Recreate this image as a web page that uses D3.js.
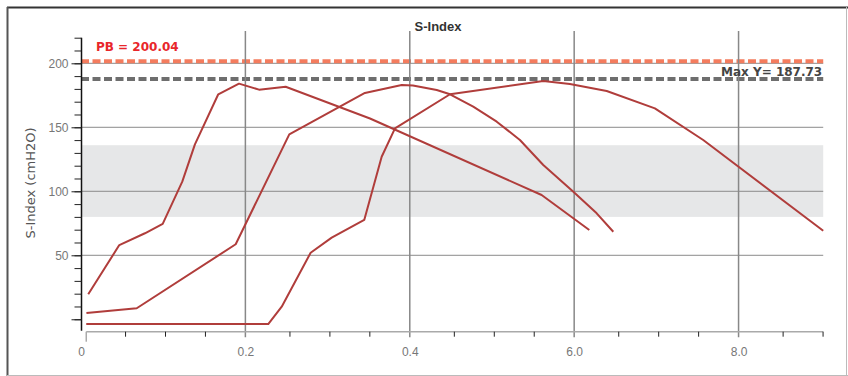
<!DOCTYPE html>
<html><head><meta charset="utf-8">
<script src="https://cdn.jsdelivr.net/npm/d3@7/dist/d3.min.js"></script>
<style>body{margin:0;background:#fff}</style>
</head><body><svg id="c" width="848" height="376"></svg>
<script>
// ---- data ----
const chartTitle = "S-Index";
const yTitle = "S-Index (cmH2O)";
const xTickLabels = ["0", "0.2", "0.4", "6.0", "8.0"];
const xTickPositions = [0, 1, 2, 3, 4];
const xMinorOffsets = [0.268, 0.511, 0.754];
const yMajorTicks = [0, 50, 100, 150, 200];
const yMinorTicks = d3.range(0, 221, 10);
const yGridValues = [50, 100, 150, 200];
const bandLimits = [80, 136];
const pbValue = 200.04;
const maxYValue = 187.73;

const curveAx = [0.044, 0.233, 0.389, 0.497, 0.616, 0.693, 0.835, 0.961, 1.083, 1.245, 1.758, 2.802, 3.092];
const curveAy = [19.5, 58.0, 67.2, 74.5, 107.5, 136.7, 175.8, 184.1, 179.4, 181.7, 156.9, 97.1, 69.8];

const curveBx = [0.033, 0.339, 0.941, 1.267, 1.727, 1.951, 2.019, 2.164, 2.245, 2.386, 2.529, 2.670, 2.812, 2.995, 3.137, 3.238];
const curveBy = [4.9, 8.6, 58.6, 144.5, 176.8, 183.0, 182.7, 179.1, 175.8, 166.1, 154.4, 140.1, 120.5, 99.7, 82.8, 68.4];

const curveCx = [0.032, 1.139, 1.221, 1.397, 1.525, 1.723, 1.829, 1.910, 2.245, 2.812, 2.974, 3.198, 3.491, 3.785, 4.515];
const curveCy = [-3.7, -3.7, 9.8, 52.0, 63.8, 77.6, 127.0, 149.2, 175.8, 186.2, 183.8, 178.4, 164.8, 140.1, 69.2];

// ---- chart ----
const svg = d3.select("#c");
const x = d3.scaleLinear().domain([0, 4.51]).range([81, 822.4]);
const y = d3.scaleLinear().domain([-9, 220]).range([330.8, 37.7]);

const curves = [[curveAx, curveAy], [curveBx, curveBy], [curveCx, curveCy]];
const allX = [].concat(curveAx, curveBx, curveCx);
const xStart = x(d3.min(allX));
const xEnd = x(d3.max(allX));
const axisY = 331.7;

// frame
svg.append("line").attr("x1", 7).attr("x2", 848).attr("y1", 7.5).attr("y2", 7.5).attr("stroke", "#333").attr("stroke-width", 2);
svg.append("line").attr("x1", 7.5).attr("x2", 7.5).attr("y1", 7).attr("y2", 376).attr("stroke", "#555").attr("stroke-width", 2);
svg.append("line").attr("x1", 7).attr("x2", 848).attr("y1", 375.5).attr("y2", 375.5).attr("stroke", "#bbb").attr("stroke-width", 1);
svg.append("line").attr("x1", 846.5).attr("x2", 846.5).attr("y1", 7).attr("y2", 376).attr("stroke", "#bbb").attr("stroke-width", 1);

// band
svg.append("rect").attr("x", x(0)).attr("width", xEnd - x(0))
  .attr("y", y(bandLimits[1])).attr("height", y(bandLimits[0]) - y(bandLimits[1]))
  .attr("fill", "#e6e7e8");

// horizontal gridlines
svg.selectAll(".hg").data(yGridValues).join("line")
  .attr("x1", x(0)).attr("x2", xEnd)
  .attr("y1", d => y(d)).attr("y2", d => y(d))
  .attr("stroke", "#8a8a8a").attr("stroke-width", 1);

// dashed reference lines
svg.append("line").attr("x1", x(0)).attr("x2", xEnd)
  .attr("y1", y(pbValue) - 2).attr("y2", y(pbValue) - 2)
  .attr("stroke", "#f47c5e").attr("stroke-width", 4).attr("stroke-dasharray", "8,3.5");
svg.append("line").attr("x1", x(0)).attr("x2", xEnd)
  .attr("y1", y(maxYValue)).attr("y2", y(maxYValue))
  .attr("stroke", "#6e6e6e").attr("stroke-width", 4).attr("stroke-dasharray", "8,3.5");

// vertical gridlines
svg.selectAll(".vg").data(xTickPositions.slice(1)).join("line")
  .attr("x1", d => x(d)).attr("x2", d => x(d))
  .attr("y1", 31).attr("y2", axisY + 5.5)
  .attr("stroke", "#888").attr("stroke-width", 1.5);

// curves
const line = d3.line().x(d => x(d[0])).y(d => y(d[1]));
curves.forEach(([cx, cy]) => {
  svg.append("path").datum(cx.map((v, i) => [v, cy[i]]))
    .attr("d", line).attr("fill", "none")
    .attr("stroke", "#b03d3b").attr("stroke-width", 2).attr("stroke-linejoin", "round");
});

// y axis
svg.append("line").attr("x1", 81.5).attr("x2", 81.5).attr("y1", y(220)).attr("y2", y(-9))
  .attr("stroke", "#111").attr("stroke-width", 1.5);
const yMinor = svg.append("g").attr("transform", "translate(81.5,0)")
  .call(d3.axisLeft(y).tickValues(yMinorTicks).tickSize(7).tickFormat(""));
const yMajor = svg.append("g").attr("transform", "translate(81.5,0)")
  .call(d3.axisLeft(y).tickValues(yMajorTicks).tickSize(10).tickPadding(3)
    .tickFormat(d => d === 0 ? "" : d));
[yMinor, yMajor].forEach(g => {
  g.select(".domain").remove();
  g.selectAll(".tick line").attr("stroke", "#222");
});
yMajor.selectAll("text").attr("fill", "#777").style("font-family", "'Liberation Sans', Arial, sans-serif").style("font-size", "12px");

// x axis
svg.append("line").attr("x1", xStart).attr("x2", xEnd).attr("y1", axisY).attr("y2", axisY)
  .attr("stroke", "#aaa").attr("stroke-width", 1.5);
svg.append("line").attr("x1", xStart).attr("x2", xStart).attr("y1", axisY).attr("y2", axisY + 10)
  .attr("stroke", "#aaa").attr("stroke-width", 1.5);
const minorX = [];
xTickPositions.forEach(k => xMinorOffsets.forEach(o => { if (k + o <= 4.52) minorX.push(k + o); }));
const xMinor = svg.append("g").attr("transform", `translate(0,${axisY})`)
  .call(d3.axisBottom(x).tickValues(minorX).tickSize(5).tickFormat(""));
xMinor.select(".domain").remove();
xMinor.selectAll(".tick line").attr("stroke", "#222");
const xLab = svg.append("g").attr("transform", `translate(0,${axisY})`)
  .call(d3.axisBottom(x).tickValues(xTickPositions).tickSize(0).tickPadding(16)
    .tickFormat((d, i) => xTickLabels[i]));
xLab.select(".domain").remove();
xLab.selectAll("text").attr("fill", "#777").style("font-family", "'Liberation Sans', Arial, sans-serif").style("font-size", "12px");

// titles
svg.append("text").attr("x", 438).attr("y", 31).attr("text-anchor", "middle")
  .style("font-family", "'Liberation Sans', Arial, sans-serif").style("font-weight", "bold").style("font-size", "13px")
  .attr("fill", "#333").text(chartTitle);
svg.append("text").attr("transform", "translate(35,183) rotate(-90)").attr("text-anchor", "middle")
  .style("font-family", "'DejaVu Sans', sans-serif").style("font-size", "13px")
  .attr("fill", "#555").text(yTitle);

// reference labels
svg.append("text").attr("x", 96).attr("y", 51)
  .style("font-family", "'DejaVu Sans', sans-serif").style("font-weight", "bold").style("font-size", "12px")
  .attr("fill", "#e8262a").text("PB = " + pbValue.toFixed(2));
svg.append("text").attr("x", xEnd - 1).attr("y", 75.5).attr("text-anchor", "end")
  .style("font-family", "'DejaVu Sans', sans-serif").style("font-weight", "bold").style("font-size", "12px")
  .attr("fill", "#444").text("Max Y= " + maxYValue.toFixed(2));
</script>
</body></html>
